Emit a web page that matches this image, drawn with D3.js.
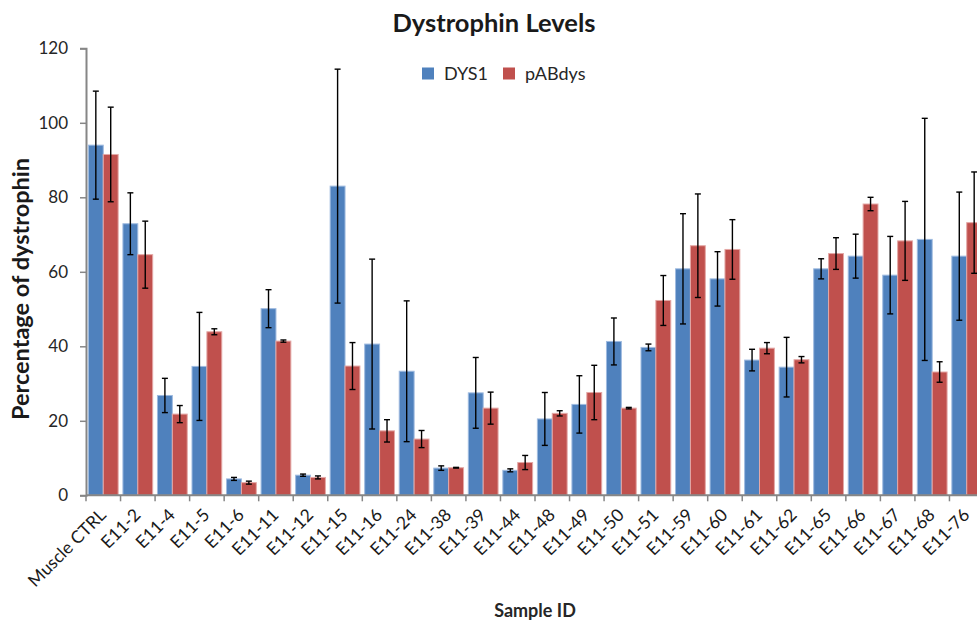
<!DOCTYPE html>
<html>
<head>
<meta charset="utf-8">
<script src="https://cdn.jsdelivr.net/npm/d3@7"></script>
<style>
  html, body { margin: 0; padding: 0; background: #fff; }
  svg { display: block; font-family: Lato, "Open Sans", sans-serif; }
</style>
</head>
<body>
<svg id="chart" width="977" height="623"></svg>
<script>
const categories = ["Muscle CTRL","E11-2","E11-4","E11-5","E11-6","E11-11","E11-12","E11-15","E11-16","E11-24","E11-38","E11-39","E11-44","E11-48","E11-49","E11-50","E11-51","E11-59","E11-60","E11-61","E11-62","E11-65","E11-66","E11-67","E11-68","E11-76"];
const dys1 = [94.0,72.9,26.8,34.6,4.4,50.1,5.4,83.0,40.6,33.3,7.3,27.5,6.7,20.5,24.4,41.3,39.7,60.8,58.1,36.3,34.4,60.8,64.2,59.1,68.7,64.2];
const dys1Err = [14.5,8.3,4.6,14.5,0.4,5.1,0.3,31.4,22.8,18.9,0.6,9.5,0.4,7.1,7.7,6.3,0.9,14.8,7.3,2.9,8.0,2.7,5.9,10.4,32.5,17.2];
const pabdys = [91.5,64.6,21.8,43.9,3.4,41.4,4.8,34.7,17.3,15.1,7.4,23.4,8.8,22.0,27.6,23.4,52.3,67.0,66.0,39.5,36.4,64.9,78.2,68.3,33.1,73.2];
const pabdysErr = [12.7,9.0,2.3,0.8,0.4,0.3,0.4,6.3,3.0,2.3,0.1,4.3,1.9,0.7,7.3,0.2,6.7,13.9,8.0,1.5,0.85,4.25,1.8,10.6,2.75,13.6];
const seriesNames = ["DYS1","pABdys"];
const seriesColors = ["#4F81BD","#C0504D"];
const yTicks = [0,20,40,60,80,100,120];

const svg = d3.select("#chart");
const mLeft = 86, mRight = 984, mTop = 48.3, mBottom = 495.3;

const x = d3.scaleBand().domain(categories).range([mLeft, mRight]).padding(0);
const xs = d3.scaleBand().domain(seriesNames).range([0, x.bandwidth()]).paddingOuter(0.16).paddingInner(0);
const y = d3.scaleLinear().domain([0,120]).range([mBottom, mTop]);

// Title
svg.append("text").attr("x", 494).attr("y", 32).attr("text-anchor","middle")
  .attr("font-size", 25.5).attr("font-weight","bold").attr("fill","#1a1a1a").text("Dystrophin Levels");

// Y axis
const yAxis = svg.append("g").attr("transform",`translate(${mLeft},0)`)
  .call(d3.axisLeft(y).tickValues(yTicks).tickSize(6).tickPadding(12));
yAxis.select(".domain").attr("stroke","#868686").attr("stroke-width",2);
yAxis.selectAll(".tick line").attr("stroke","#868686").attr("stroke-width",1.5);
yAxis.selectAll(".tick text").attr("font-size",17).attr("fill","#262626").attr("font-family","Lato, sans-serif");

// Y axis title
svg.append("text").attr("transform","translate(29,289) rotate(-90)").attr("text-anchor","middle")
  .attr("font-size",23.5).attr("font-weight","bold").attr("fill","#1a1a1a").text("Percentage of dystrophin");

// Bars
const data = categories.map((c,i) => ({c, vals:[
  {s:seriesNames[0], v:dys1[i], e:dys1Err[i], col:seriesColors[0]},
  {s:seriesNames[1], v:pabdys[i], e:pabdysErr[i], col:seriesColors[1]}
]}));

const groups = svg.append("g").selectAll("g").data(data).join("g")
  .attr("transform", d => `translate(${x(d.c)},0)`);

groups.selectAll("rect").data(d => d.vals).join("rect")
  .attr("x", d => xs(d.s)).attr("width", xs.bandwidth())
  .attr("y", d => y(d.v)).attr("height", d => y(0) - y(d.v))
  .attr("fill", d => d.col)
  .attr("stroke", d => d.s === "DYS1" ? "#9fbbe0" : "#e4a8a6").attr("stroke-width",1);

// Error bars
const eb = groups.selectAll("g.err").data(d => d.vals).join("g").attr("class","err")
  .attr("stroke","#000").attr("stroke-width",1.4);
eb.append("line").attr("x1", d => xs(d.s)+xs.bandwidth()/2).attr("x2", d => xs(d.s)+xs.bandwidth()/2)
  .attr("y1", d => y(d.v + d.e)).attr("y2", d => y(Math.max(0,d.v - d.e)));
eb.append("line").attr("x1", d => xs(d.s)+xs.bandwidth()/2-3).attr("x2", d => xs(d.s)+xs.bandwidth()/2+3)
  .attr("y1", d => y(d.v + d.e)).attr("y2", d => y(d.v + d.e));
eb.append("line").attr("x1", d => xs(d.s)+xs.bandwidth()/2-3).attr("x2", d => xs(d.s)+xs.bandwidth()/2+3)
  .attr("y1", d => y(Math.max(0,d.v - d.e))).attr("y2", d => y(Math.max(0,d.v - d.e)));

// X axis
const xAxisG = svg.append("g").attr("transform",`translate(0,${mBottom})`);
xAxisG.append("line").attr("x1",mLeft).attr("x2",mRight).attr("stroke","#868686").attr("stroke-width",2);
xAxisG.selectAll("line.tk").data(d3.range(categories.length+1)).join("line").attr("class","tk")
  .attr("x1", i => mLeft + i*x.step()).attr("x2", i => mLeft + i*x.step())
  .attr("y1",0).attr("y2",6).attr("stroke","#868686").attr("stroke-width",1.5);
xAxisG.selectAll("text").data(categories).join("text")
  .attr("transform", d => `translate(${x(d)+x.bandwidth()/2-0.5},${16.5}) rotate(-45)`)
  .attr("text-anchor","end").attr("dy","0.35em")
  .attr("font-size",17.5).attr("fill","#1a1a1a").text(d => d);

// X axis title
svg.append("text").attr("x",535).attr("y",617).attr("text-anchor","middle")
  .attr("font-size",18).attr("font-weight","bold").attr("fill","#262626").text("Sample ID");

// Legend
const leg = svg.append("g");
const legX = [422, 503];
seriesNames.forEach((s,i) => {
  leg.append("rect").attr("x",legX[i]).attr("y",67.5).attr("width",12).attr("height",12).attr("fill",seriesColors[i]);
  leg.append("text").attr("x",legX[i]+22).attr("y",80).attr("font-size",18).attr("fill","#262626").text(s);
});
</script>
</body>
</html>
